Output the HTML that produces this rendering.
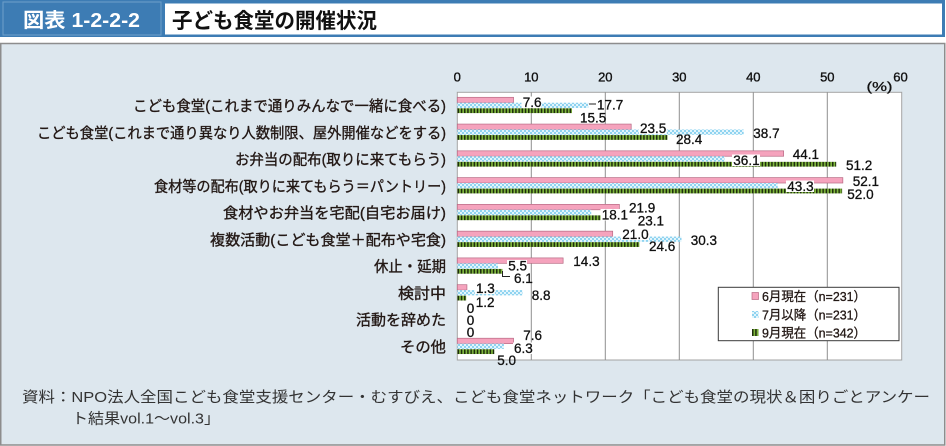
<!DOCTYPE html>
<html><head><meta charset="utf-8"><style>
html,body{margin:0;padding:0;background:#fff;}
svg{display:block;}
text{font-family:"Liberation Sans","Noto Sans CJK JP",sans-serif;}
</style></head><body>
<svg width="946" height="446" viewBox="0 0 946 446" xmlns="http://www.w3.org/2000/svg">
<defs>
<pattern id="pb" width="4" height="4" patternUnits="userSpaceOnUse">
<rect width="4" height="4" fill="#8fd3f0"/>
<rect x="0" y="0" width="2" height="2" fill="#e2f5fc"/>
<rect x="2" y="2" width="2" height="2" fill="#e2f5fc"/>
</pattern>
<pattern id="pg" width="3.2" height="10" patternUnits="userSpaceOnUse">
<rect width="3.2" height="10" fill="#7fb63e"/>
<rect x="0" y="0" width="1.5" height="10" fill="#1d2d0c"/>
</pattern>
</defs>
<!-- header -->
<rect x="0" y="0" width="945" height="37" fill="#3d7cb4"/>
<rect x="3" y="2" width="158" height="33" fill="none" stroke="#6f9fca" stroke-width="1"/>
<rect x="165" y="3.5" width="777" height="31" fill="#fff"/>
<text x="23" y="27" font-size="20" font-weight="bold" fill="#fff" textLength="117" lengthAdjust="spacingAndGlyphs">図表 1-2-2-2</text>
<text x="172" y="28" font-size="21" font-weight="bold" fill="#111" textLength="205" lengthAdjust="spacingAndGlyphs">子ども食堂の開催状況</text>
<!-- panel -->
<rect x="0.75" y="43.5" width="944" height="401.5" fill="#dde7ee" stroke="#8d8d8d" stroke-width="1.5"/>
<!-- plot -->
<rect x="457.3" y="92.3" width="444.4" height="267.7" fill="#fff" stroke="#a3a3a3" stroke-width="1"/>
<g stroke="#8f8f8f" stroke-width="1">
<line x1="531.3" y1="92.3" x2="531.3" y2="360"/>
<line x1="605.3" y1="92.3" x2="605.3" y2="360"/>
<line x1="679.3" y1="92.3" x2="679.3" y2="360"/>
<line x1="753.3" y1="92.3" x2="753.3" y2="360"/>
<line x1="827.3" y1="92.3" x2="827.3" y2="360"/>
</g>
<!-- tick labels -->
<g font-size="13" fill="#111" stroke="#111" stroke-width="0.35" text-anchor="middle">
<text x="457.3" y="81.5">0</text>
<text x="531.3" y="81.5">10</text>
<text x="605.3" y="81.5">20</text>
<text x="679.3" y="81.5">30</text>
<text x="753.3" y="81.5">40</text>
<text x="827.3" y="81.5">50</text>
<text x="900.5" y="81.5">60</text>
</g>
<text x="866.5" y="91" font-size="13" fill="#111" stroke="#111" stroke-width="0.3" textLength="26" lengthAdjust="spacingAndGlyphs">(%)</text>
<!-- bars -->
<g>
<rect x="457.3" y="97.3" width="56.24" height="5.4" fill="#f5a3bd" stroke="#b86a84" stroke-width="0.7"/>
<rect x="457.3" y="102.7" width="130.98" height="5.3" fill="url(#pb)"/>
<rect x="457.3" y="108.3" width="114.7" height="4.8" fill="url(#pg)"/>
<rect x="457.3" y="124.07" width="173.9" height="5.4" fill="#f5a3bd" stroke="#b86a84" stroke-width="0.7"/>
<rect x="457.3" y="129.47" width="286.38" height="5.3" fill="url(#pb)"/>
<rect x="457.3" y="135.07" width="210.16" height="4.8" fill="url(#pg)"/>
<rect x="457.3" y="150.84" width="326.34" height="5.4" fill="#f5a3bd" stroke="#b86a84" stroke-width="0.7"/>
<rect x="457.3" y="156.24" width="267.14" height="5.3" fill="url(#pb)"/>
<rect x="457.3" y="161.84" width="378.88" height="4.8" fill="url(#pg)"/>
<rect x="457.3" y="177.61" width="385.54" height="5.4" fill="#f5a3bd" stroke="#b86a84" stroke-width="0.7"/>
<rect x="457.3" y="183.01" width="320.42" height="5.3" fill="url(#pb)"/>
<rect x="457.3" y="188.61" width="384.8" height="4.8" fill="url(#pg)"/>
<rect x="457.3" y="204.38" width="162.06" height="5.4" fill="#f5a3bd" stroke="#b86a84" stroke-width="0.7"/>
<rect x="457.3" y="209.78" width="133.94" height="5.3" fill="url(#pb)"/>
<rect x="457.3" y="215.38" width="170.94" height="4.8" fill="url(#pg)"/>
<rect x="457.3" y="231.15" width="155.4" height="5.4" fill="#f5a3bd" stroke="#b86a84" stroke-width="0.7"/>
<rect x="457.3" y="236.55" width="224.22" height="5.3" fill="url(#pb)"/>
<rect x="457.3" y="242.15" width="182.04" height="4.8" fill="url(#pg)"/>
<rect x="457.3" y="257.92" width="105.82" height="5.4" fill="#f5a3bd" stroke="#b86a84" stroke-width="0.7"/>
<rect x="457.3" y="263.32" width="40.7" height="5.3" fill="url(#pb)"/>
<rect x="457.3" y="268.92" width="45.14" height="4.8" fill="url(#pg)"/>
<rect x="457.3" y="284.69" width="9.62" height="5.4" fill="#f5a3bd" stroke="#b86a84" stroke-width="0.7"/>
<rect x="457.3" y="290.09" width="65.12" height="5.3" fill="url(#pb)"/>
<rect x="457.3" y="295.69" width="8.88" height="4.8" fill="url(#pg)"/>
<rect x="457.3" y="338.23" width="56.24" height="5.4" fill="#f5a3bd" stroke="#b86a84" stroke-width="0.7"/>
<rect x="457.3" y="343.63" width="46.62" height="5.3" fill="url(#pb)"/>
<rect x="457.3" y="349.23" width="37" height="4.8" fill="url(#pg)"/>
</g>
<!-- label backgrounds -->
<g fill="#fff">
<rect x="521.5" y="96.5" width="20" height="11.5"/>
<rect x="638.8" y="122.5" width="28" height="11.5"/>
<rect x="732" y="154.5" width="28" height="11.5"/>
<rect x="786" y="180.5" width="28" height="11.5"/>
<rect x="600.5" y="209" width="28" height="11.5"/>
<rect x="621" y="228.5" width="28" height="11.5"/>
<rect x="507" y="260" width="20" height="11.5"/>
<rect x="474.8" y="282.5" width="20" height="11.5"/>
<rect x="513" y="342.5" width="20" height="11.5"/>
</g>
<!-- leader lines -->
<g stroke="#222" stroke-width="1" fill="none">
<line x1="589" y1="104" x2="596" y2="104"/>
<polyline points="502.5,271 502.5,276.5 510,276.5"/>
</g>
<!-- value labels -->
<g font-size="13.5" fill="#111" stroke="#111" stroke-width="0.3">
<text x="522.7" y="107">7.6</text>
<text x="597" y="109.3">17.7</text>
<text x="580" y="122.5">15.5</text>
<text x="640" y="133">23.5</text>
<text x="753.3" y="138">38.7</text>
<text x="676" y="144">28.4</text>
<text x="792.7" y="159">44.1</text>
<text x="733.3" y="165">36.1</text>
<text x="846" y="170">51.2</text>
<text x="852.7" y="186">52.1</text>
<text x="787.3" y="191">43.3</text>
<text x="847.3" y="199">52.0</text>
<text x="629" y="212.5">21.9</text>
<text x="601.7" y="219.5">18.1</text>
<text x="637.7" y="225.5">23.1</text>
<text x="622.3" y="239">21.0</text>
<text x="690.7" y="245">30.3</text>
<text x="649" y="251">24.6</text>
<text x="573.3" y="266">14.3</text>
<text x="508.3" y="270.5">5.5</text>
<text x="514" y="283">6.1</text>
<text x="476" y="293">1.3</text>
<text x="531.7" y="300">8.8</text>
<text x="475.7" y="307">1.2</text>
<text x="466.7" y="313">0</text>
<text x="466.7" y="325">0</text>
<text x="466.7" y="337">0</text>
<text x="523.3" y="340">7.6</text>
<text x="514" y="353">6.3</text>
<text x="497.3" y="365">5.0</text>
</g>
<!-- category labels -->
<g font-size="15" fill="#231815" stroke="#231815" stroke-width="0.35" text-anchor="end">
<text x="446" y="111" textLength="313" lengthAdjust="spacingAndGlyphs">こども食堂(これまで通りみんなで一緒に食べる)</text>
<text x="446" y="137.8" textLength="409" lengthAdjust="spacingAndGlyphs">こども食堂(これまで通り異なり人数制限、屋外開催などをする)</text>
<text x="446" y="164.5" textLength="211" lengthAdjust="spacingAndGlyphs">お弁当の配布(取りに来てもらう)</text>
<text x="446" y="191.3" textLength="292" lengthAdjust="spacingAndGlyphs">食材等の配布(取りに来てもらう＝パントリー)</text>
<text x="446" y="218.1" textLength="223" lengthAdjust="spacingAndGlyphs">食材やお弁当を宅配(自宅お届け)</text>
<text x="446" y="244.9" textLength="236" lengthAdjust="spacingAndGlyphs">複数活動(こども食堂＋配布や宅食)</text>
<text x="446" y="271.6" textLength="72" lengthAdjust="spacingAndGlyphs">休止・延期</text>
<text x="446" y="298.4" textLength="48" lengthAdjust="spacingAndGlyphs">検討中</text>
<text x="446" y="325.2" textLength="90" lengthAdjust="spacingAndGlyphs">活動を辞めた</text>
<text x="446" y="351.9" textLength="46" lengthAdjust="spacingAndGlyphs">その他</text>
</g>
<!-- legend -->
<rect x="718.3" y="287.3" width="180.7" height="53.4" fill="#fff" stroke="#3a3a3a" stroke-width="1"/>
<rect x="752" y="292.5" width="6.5" height="7" fill="#f5a3bd" stroke="#b86a84" stroke-width="0.7"/>
<rect x="752" y="311" width="6.5" height="7" fill="url(#pb)"/>
<rect x="752" y="329" width="6.5" height="7" fill="url(#pg)"/>
<g font-size="13" fill="#231815" stroke="#231815" stroke-width="0.3">
<text x="762" y="301" textLength="104" lengthAdjust="spacingAndGlyphs">6月現在（n=231）</text>
<text x="762" y="319.3" textLength="104" lengthAdjust="spacingAndGlyphs">7月以降（n=231）</text>
<text x="762" y="337.3" textLength="104" lengthAdjust="spacingAndGlyphs">9月現在（n=342）</text>
</g>
<!-- source -->
<g font-size="15" fill="#333">
<text x="22" y="402" textLength="908" lengthAdjust="spacingAndGlyphs">資料：NPO法人全国こども食堂支援センター・むすびえ、こども食堂ネットワーク「こども食堂の現状＆困りごとアンケー</text>
<text x="72" y="423.5" textLength="148" lengthAdjust="spacingAndGlyphs">ト結果vol.1〜vol.3」</text>
</g>
</svg>
</body></html>
